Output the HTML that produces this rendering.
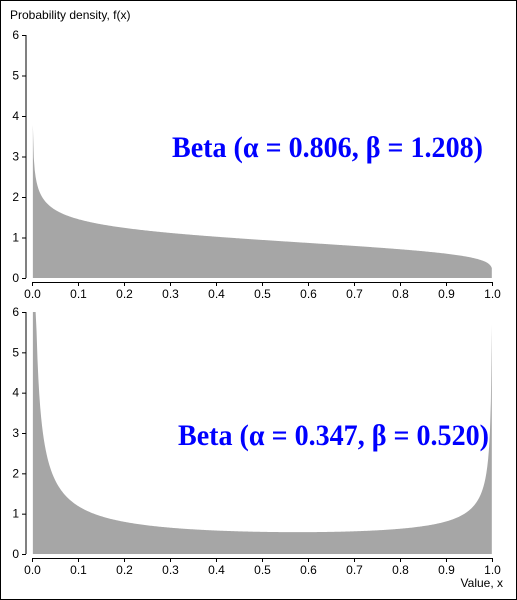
<!DOCTYPE html>
<html><head><meta charset="utf-8"><style>
html,body{margin:0;padding:0;background:#fff}
svg{display:block}
text{font-family:"Liberation Sans","DejaVu Sans",sans-serif}
</style></head><body>
<svg id="chart" width="517" height="600" xmlns="http://www.w3.org/2000/svg">
<rect x="0.5" y="0.5" width="516" height="599" fill="#fff" stroke="#000"/>
<text x="10" y="19" font-size="12" fill="#000">Probability density, f(x)</text>
<text x="503" y="587" font-size="12" fill="#000" text-anchor="end">Value, x</text>
<g id="panels"></g>
</svg>
<script>
const alphas = [0.806, 0.347];
const betas = [1.208, 0.520];
const yTicks = [0, 1, 2, 3, 4, 5, 6];
const xTicks = [0, 0.1, 0.2, 0.3, 0.4, 0.5, 0.6, 0.7, 0.8, 0.9, 1.0];
const xTickLabels = ["0.0","0.1","0.2","0.3","0.4","0.5","0.6","0.7","0.8","0.9","1.0"];
const titles = ["Beta (\u03b1 = 0.806, \u03b2 = 1.208)", "Beta (\u03b1 = 0.347, \u03b2 = 0.520)"];

const NS = "http://www.w3.org/2000/svg";
function lgamma(z){
  const g=7,c=[0.99999999999980993,676.5203681218851,-1259.1392167224028,771.32342877765313,-176.61502916214059,12.507343278686905,-0.13857109526572012,9.9843695780195716e-6,1.5056327351493116e-7];
  if(z<0.5) return Math.log(Math.PI/Math.abs(Math.sin(Math.PI*z)))-lgamma(1-z);
  z-=1; let x=c[0]; for(let i=1;i<g+2;i++) x+=c[i]/(z+i);
  const t=z+g+0.5; return 0.5*Math.log(2*Math.PI)+(z+0.5)*Math.log(t)-t+Math.log(x);
}
function pdf(x,a,b){ return Math.exp((a-1)*Math.log(x)+(b-1)*Math.log(1-x)+lgamma(a+b)-lgamma(a)-lgamma(b)); }
function mk(tag,attrs,parent){const e=document.createElementNS(NS,tag);for(const k in attrs)e.setAttribute(k,attrs[k]);parent.appendChild(e);return e;}

const panels=[{top:35,bottom:278,axisY:282,titleX:483,titleY:157},{top:312,bottom:554,axisY:558,titleX:489,titleY:445}];
const X0=32.5,X1=492.5,YAX=26;
const XS=0.0008,XE=0.9985;
const root=document.getElementById('panels');
panels.forEach((p,i)=>{
  const g=mk('g',{},root);
  
  
  const xs=v=>X0+v*(X1-X0);
  const ys=v=>p.bottom-Math.min(v,6)/6*(p.bottom-p.top);
  let d='M'+xs(XS)+','+p.bottom;
  const n=500;
  for(let k=0;k<=n;k++){const x=XS+k*((XE-XS)/n);d+=' L'+xs(x).toFixed(2)+','+ys(pdf(x,alphas[i],betas[i])).toFixed(2);}
  d+=' L'+xs(XE)+','+p.bottom+' Z';
  const area=mk('path',{d:d,fill:'#a6a6a6',stroke:'none'},g);
  
  
  const yl=mk('path',{d:'M'+YAX+','+ys(6)+' V'+ys(0),stroke:'#000','stroke-width':1,fill:'none'},g);
  
  
  yTicks.forEach(t=>{
    mk('line',{x1:YAX-4,x2:YAX,y1:ys(t)+0.5,y2:ys(t)+0.5,stroke:'#000'},g);
    const tl=mk('text',{x:YAX-7,y:ys(t)+4,'font-size':12,'text-anchor':'end'},g);
    tl.textContent=t;
    
    
  });
  const xl=mk('path',{d:'M'+xs(0)+','+(p.axisY+0.5)+' H'+xs(1),stroke:'#000',fill:'none'},g);
  
  
  xTicks.forEach((t,j)=>{
    mk('line',{x1:xs(t),x2:xs(t),y1:p.axisY,y2:p.axisY+4,stroke:'#000'},g);
    const tl=mk('text',{x:xs(t),y:p.axisY+16,'font-size':12,'text-anchor':'middle'},g);
    tl.textContent=xTickLabels[j];
    
    
  });
  const tt=mk('text',{x:p.titleX,y:p.titleY,'font-size':30,'font-weight':'bold',fill:'#0000ff','text-anchor':'end',style:'font-family:"Liberation Serif",serif',textLength:311,lengthAdjust:'spacingAndGlyphs'},g);
  tt.textContent=titles[i];
  
  
});
</script>
</body></html>
